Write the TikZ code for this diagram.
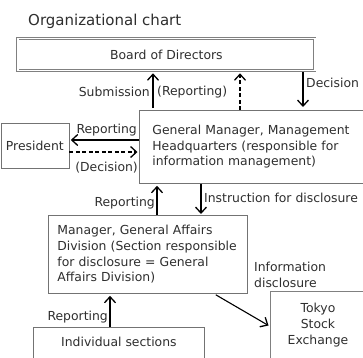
\documentclass[tikz,border=0pt]{standalone}
\usepackage{fontspec}
\setmainfont{DejaVu Sans}
\usetikzlibrary{arrows.meta}
\begin{document}
\begin{tikzpicture}[x=1pt,y=-1pt,
  font=\fontsize{12.4}{15.6}\selectfont, text=black!82,
  box/.style={draw=black!55, line width=0.8pt, inner sep=0pt, anchor=north west},
  dbox/.style={draw=black!50, line width=0.8pt, double, double distance=1.3pt, inner sep=0pt, anchor=north west},
  arr/.style={draw=black, line width=1.3pt, -{Straight Barb[length=6pt,width=11pt,line width=1.3pt]}},
  darr/.style={arr, dash pattern=on 4pt off 2.5pt},
  lbl/.style={inner sep=0pt}]
\useasboundingbox (0,0) rectangle (363,357);
\clip (0,0) rectangle (363,357);
% title
\node[lbl, anchor=west, font=\fontsize{15}{18}\selectfont] (title) at (28,21) {Organizational chart};
% boxes
\node[dbox, minimum width=297, minimum height=32] (bod) at (17.5,38) {Board of Directors};
\node[box, minimum height=73, text width=215, inner xsep=13, align=left] (gm) at (139,110)
  {General Manager, Management\\Headquarters (responsible for\\information management)};
\node[box, minimum width=68, minimum height=45] (pres) at (0.5,123) {President};
\node[box, minimum width=199, minimum height=78, text width=181, inner xsep=9, align=left] (mgr) at (48,215)
  {Manager, General Affairs\\Division (Section responsible\\for disclosure = General\\Affairs Division)};
\node[box, minimum width=171, inner ysep=10, text height=9, text depth=40] (ind) at (33,327) {Individual sections};
\node[dbox, minimum width=93, minimum height=80] (tse) at (271.5,292.5) {};
\node[lbl, align=center] (tset) at (318,325) {Tokyo\\Stock\\Exchange};
% coordinates for vertical connectors
\coordinate (xs) at (153,0);
\coordinate (xr) at (240,0);
\coordinate (xd) at (303,0);
\coordinate (xu) at (157,0);
\coordinate (xi) at (201,0);
\coordinate (xp) at (110,0);
\coordinate (yr) at (0,140);
\coordinate (yd) at (0,152);
% connectors
\draw[arr] ([yshift=2]xs |- gm.north) -- ([yshift=-2.5]xs |- bod.south);
\draw[darr] (xr |- gm.north) -- ([yshift=-2.5]xr |- bod.south);
\draw[arr] ([yshift=-1]xd |- bod.south) -- ([yshift=3]xd |- gm.north);
\draw[arr] (gm.west |- yr) -- ([xshift=1.5]pres.east |- yr);
\draw[darr] (pres.east |- yd) -- ([xshift=-1.5]gm.west |- yd);
\draw[arr] (xu |- mgr.north) -- ([yshift=-2]xu |- gm.south);
\draw[arr] (xi |- gm.south) -- ([yshift=1]xi |- mgr.north);
\draw[arr] (xp |- ind.north) -- ([yshift=-2]xp |- mgr.south);
\draw[arr, line width=1.1pt] ([xshift=-32,yshift=-1]mgr.south east) -- ([xshift=-3,yshift=-33]tse.north west);
% labels
\node[lbl, anchor=east] (lsub) at (150,92) {Submission};
\node[lbl, anchor=west] (lrep1) at (157,92) {(Reporting)};
\node[lbl, anchor=west] (ldec) at (306,83) {Decision};
\node[lbl, anchor=east] (lrep2) at (137,130) {Reporting};
\node[lbl, anchor=east] (ldec2) at (138,168) {(Decision)};
\node[lbl, anchor=east] (lrep3) at (155,203) {Reporting};
\node[lbl, anchor=west] (linst) at (204,198) {Instruction for disclosure};
\node[lbl, anchor=east] (lrep4) at (108,317) {Reporting};
\node[lbl, anchor=west, align=left] (linfo) at (254,275) {Information\\disclosure};
\end{tikzpicture}
\end{document}
